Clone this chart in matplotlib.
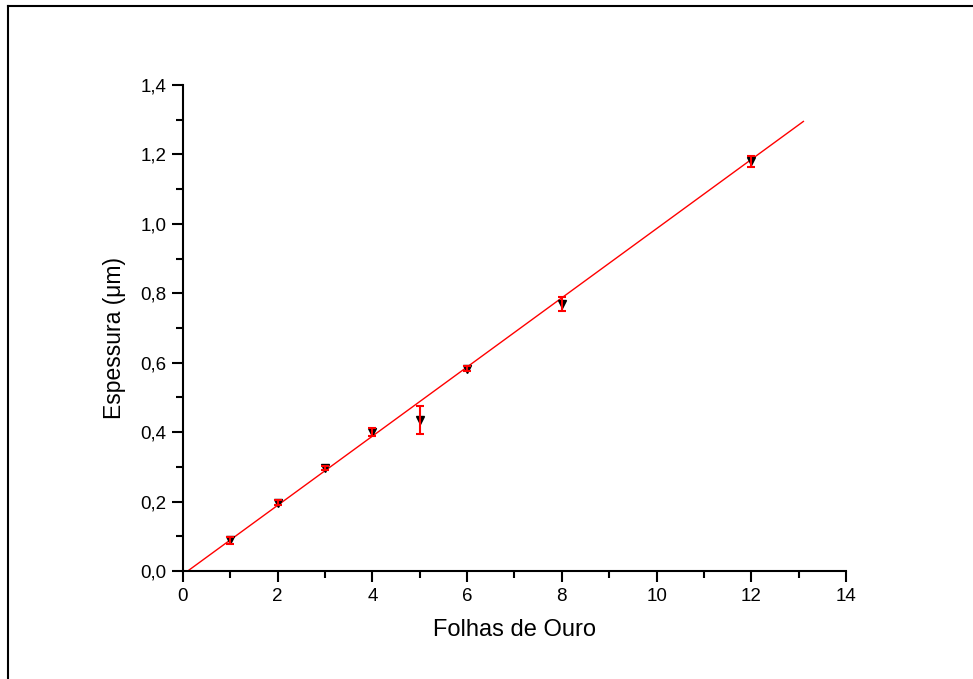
import numpy as np
import matplotlib
matplotlib.use("Agg")
import matplotlib.pyplot as plt
import matplotlib.ticker as mticker
from matplotlib.lines import Line2D

plt.rcParams['font.family'] = ['Liberation Sans', 'DejaVu Sans']

# Dados
folhas = [1, 2, 3, 4, 5, 6, 8, 12]
espessura = [0.089, 0.197, 0.297, 0.400, 0.436, 0.583, 0.770, 1.180]
erro = [0.010, 0.008, 0.006, 0.012, 0.040, 0.008, 0.020, 0.016]

# Ajuste linear
inclinacao = 0.0996
intercepto = -0.010
x_ajuste = [0, 13.1]

fig = plt.figure(figsize=(9.73, 6.79), dpi=100)
ax = fig.add_axes([0.188, 0.159, 0.6815, 0.716])

ax.plot(x_ajuste, [inclinacao * x + intercepto for x in x_ajuste], color='red', lw=1.0, zorder=1)
ax.plot(folhas, espessura, linestyle='none', marker='v', color='black', markersize=6, zorder=2)
ax.errorbar(folhas, espessura, yerr=erro, fmt='none', ecolor='red', elinewidth=1.5,
            capsize=3.2, capthick=1.5, zorder=3)

ax.set_xlim(0, 14)
ax.set_ylim(0, 1.4)
ax.xaxis.set_major_locator(mticker.MultipleLocator(2))
ax.xaxis.set_minor_locator(mticker.MultipleLocator(1))
ax.yaxis.set_major_locator(mticker.MultipleLocator(0.2))
ax.yaxis.set_minor_locator(mticker.MultipleLocator(0.1))
ax.yaxis.set_major_formatter(mticker.FuncFormatter(lambda v, _: f'{v:.1f}'.replace('.', ',')))

for lado in ['top', 'right']:
    ax.spines[lado].set_visible(False)
for lado in ['left', 'bottom']:
    ax.spines[lado].set_linewidth(1.5)

ax.tick_params(which='major', direction='out', length=8, width=1.5, labelsize=13.5, pad=4)
ax.tick_params(which='minor', direction='out', length=5, width=1.5)

ax.set_xlabel('Folhas de Ouro', fontsize=17, labelpad=10)
ax.set_ylabel('Espessura (μm)', fontsize=16.5)
ax.yaxis.set_label_coords(-0.086, 0.48)

# Moldura da figura (topo e esquerda)
fig.add_artist(Line2D([8 / 973, 8 / 973], [0, 1 - 6 / 679], transform=fig.transFigure, color='black', lw=1.5))
fig.add_artist(Line2D([8 / 973, 1], [1 - 6 / 679, 1 - 6 / 679], transform=fig.transFigure, color='black', lw=1.5))

fig.savefig('out.png', dpi=100)
